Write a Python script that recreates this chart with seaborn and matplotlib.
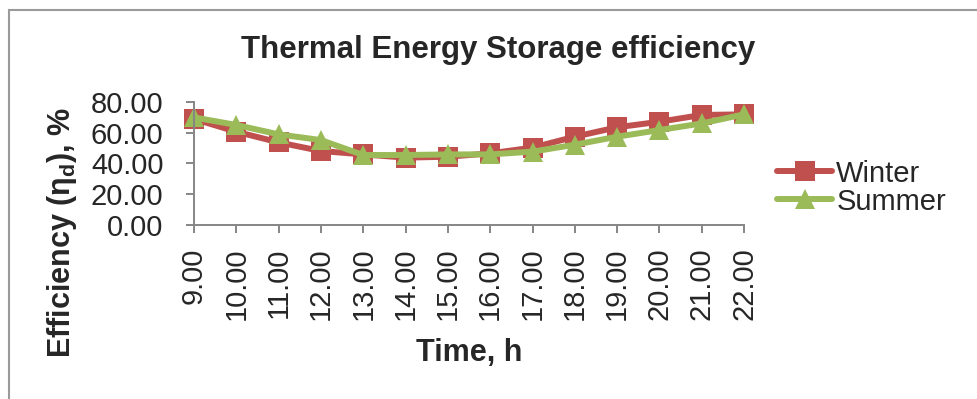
import pandas as pd
import matplotlib
matplotlib.use('Agg')
import matplotlib.pyplot as plt
from matplotlib.patches import Rectangle
import seaborn as sns

sns.set_style('white')
plt.rcParams['font.family'] = ['Liberation Sans', 'DejaVu Sans']
plt.rcParams['mathtext.fontset'] = 'custom'
plt.rcParams['mathtext.rm'] = 'Liberation Sans'

# Values (hours and efficiency in %)
hours = [9, 10, 11, 12, 13, 14, 15, 16, 17, 18, 19, 20, 21, 22]
hour_labels = ['9.00', '10.00', '11.00', '12.00', '13.00', '14.00', '15.00',
               '16.00', '17.00', '18.00', '19.00', '20.00', '21.00', '22.00']
winter = [68.8, 60.5, 53.6, 48.0, 45.8, 43.7, 44.3, 46.5, 50.2, 57.3, 63.4, 67.0, 71.4, 71.8]
summer = [69.8, 64.9, 58.8, 55.1, 45.4, 45.4, 45.8, 45.8, 47.6, 52.1, 57.3, 61.6, 65.9, 71.8]
y_ticks = [0, 20, 40, 60, 80]
y_labels = ['0.00', '20.00', '40.00', '60.00', '80.00']

# Long-form table for seaborn
df = pd.concat([
    pd.DataFrame({'time': hours, 'eff': winter, 'season': 'Winter'}),
    pd.DataFrame({'time': hours, 'eff': summer, 'season': 'Summer'}),
])

fig = plt.figure(figsize=(9.78, 3.99), dpi=100)
ax = fig.add_axes([0.1984, 0.4361, 0.5624, 0.309])

sns.lineplot(data=df, x='time', y='eff', hue='season', style='season',
             hue_order=['Winter', 'Summer'], style_order=['Winter', 'Summer'],
             palette={'Winter': '#C0504D', 'Summer': '#9BBB59'},
             markers={'Winter': 's', 'Summer': '^'}, dashes=False,
             linewidth=4.3, markersize=14, markeredgewidth=0,
             clip_on=False, legend=False, ax=ax)

ax.set_xlim(9, 22)
ax.set_ylim(0, 80)
ax.set_xticks(hours, hour_labels, rotation=90)
ax.set_yticks(y_ticks, y_labels)
ax.tick_params(axis='x', labelsize=21, length=6, width=1.4, color='#868686', pad=10, direction='out', bottom=True)
ax.tick_params(axis='y', labelsize=21, length=6, width=1.4, color='#868686', pad=16, direction='out', left=True)
for lab in ax.get_xticklabels():
    lab.set_va('top')

# Only the two axis lines, grey like the original
sns.despine(ax=ax)
for side in ['left', 'bottom']:
    ax.spines[side].set_color('#868686')
    ax.spines[side].set_linewidth(1.4)
ax.grid(False)

ax.set_xlabel('Time, h', fontsize=22, fontweight='bold')
ax.xaxis.set_label_coords(0.5, -0.92)
ax.set_ylabel('Efficiency (η$_\\mathregular{d}$), %', fontsize=22, fontweight='bold', va='center')
ax.yaxis.set_label_coords(-0.24, -0.057)

fig.text(0.509, 0.875, 'Thermal Energy Storage efficiency', fontsize=22.5,
         fontweight='bold', ha='center', va='center')

ax.legend(handles=ax.lines[:2], labels=['Winter', 'Summer'], loc='center left',
          bbox_to_anchor=(0.7945, 0.530), bbox_transform=fig.transFigure,
          frameon=False, fontsize=21, handlelength=1.9, handletextpad=0.13,
          borderpad=0, borderaxespad=0, labelspacing=0.0, numpoints=1)

# grey chart border, cut by the image edges
fig.patches.append(Rectangle((9 / 978, -0.1), 1.2, 1.1 - 10 / 399,
                             transform=fig.transFigure, fill=False,
                             edgecolor='#9a9a9a', linewidth=1.5))

fig.savefig('out.png', dpi=100)
